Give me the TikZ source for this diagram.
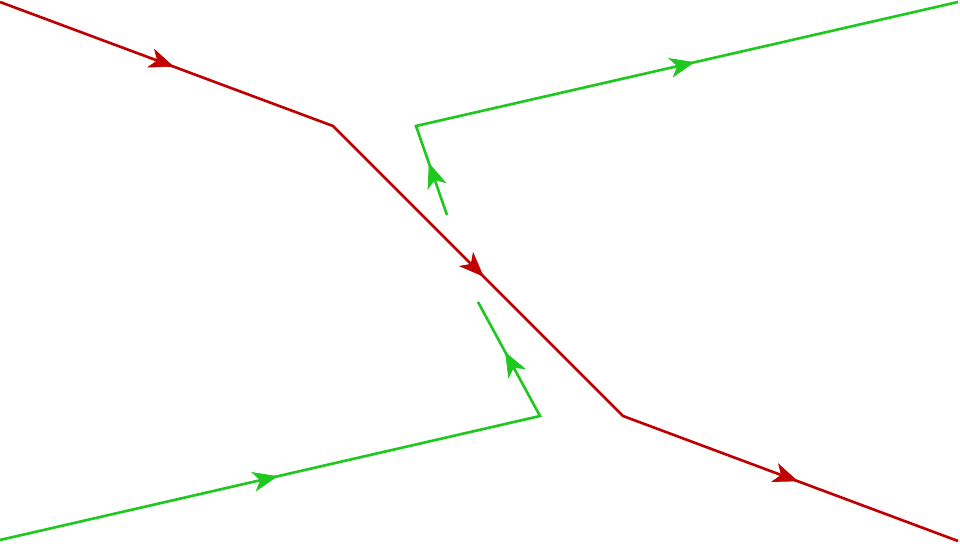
\documentclass[tikz,border=0pt]{standalone}
\usetikzlibrary{arrows.meta,decorations.markings}

\definecolor{quarkred}{RGB}{192,0,0}
\definecolor{quarkgreen}{RGB}{30,200,30}

\tikzset{
  redline/.style={draw=quarkred, line width=1.5pt, line join=miter},
  greenline/.style={draw=quarkgreen, line width=1.5pt, line join=miter},
  midarrow/.style={decoration={markings, mark=at position 0.5 with {\pgftransformxshift{1.6mm}\arrow[#1]{Stealth[length=5mm,width=4mm,inset=1.4mm]}}}, postaction={decorate}}
}

\begin{document}
\begin{tikzpicture}[x=0.02cm,y=-0.02cm]
\useasboundingbox (0,0) rectangle (960,546);
% red line
\coordinate (r1) at (0,2); \coordinate (r2) at (333,126);
\coordinate (r3) at (623,416); \coordinate (r4) at (958,541);
\draw[redline] (r1) -- (r2) -- (r3) -- (r4);
\path[midarrow=quarkred] (r1) -- (r2);
\path[midarrow=quarkred] (r2) -- (r3);
\path[midarrow=quarkred] (r3) -- (r4);

% green line, lower half
\coordinate (g1) at (0,540); \coordinate (g2) at (540,416); \coordinate (g3) at (478,302);
\draw[greenline] (g1) -- (g2) -- (g3);
\path[midarrow=quarkgreen] (g1) -- (g2);
\path[midarrow=quarkgreen] (g2) -- (g3);

% green line, upper half
\coordinate (h1) at (447,215); \coordinate (h2) at (416,126); \coordinate (h3) at (958,2);
\draw[greenline] (h1) -- (h2) -- (h3);
\path[midarrow=quarkgreen] (h1) -- (h2);
\path[midarrow=quarkgreen] (h2) -- (h3);

\end{tikzpicture}
\end{document}
